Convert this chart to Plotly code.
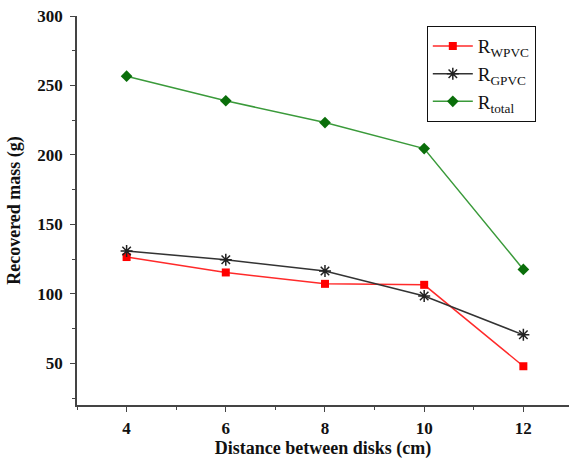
import plotly.graph_objects as go

distance = [4, 6, 8, 10, 12]
r_wpvc = [126.5, 115.4, 107.2, 106.5, 47.9]
r_gpvc = [130.8, 124.6, 116.4, 98.4, 70.5]
r_total = [256.7, 239.0, 223.3, 204.6, 117.6]

names = ["R<sub>WPVC</sub>", "R<sub>GPVC</sub>", "R<sub>total</sub>"]

fig = go.Figure()
fig.add_trace(go.Scatter(x=distance, y=r_wpvc, mode="lines+markers", name=names[0],
                         line=dict(color="#ff2a2a", width=1.5),
                         marker=dict(symbol="square", size=8, color="#ff0000")))
fig.add_trace(go.Scatter(x=distance, y=r_gpvc, mode="lines+markers", name=names[1],
                         line=dict(color="#333333", width=1.5),
                         marker=dict(symbol="asterisk-open", size=10, color="#222222",
                                     line=dict(color="#222222", width=1.5))))
fig.add_trace(go.Scatter(x=distance, y=r_total, mode="lines+markers", name=names[2],
                         line=dict(color="#3a9a3a", width=1.5),
                         marker=dict(symbol="diamond", size=9, color="#0a6e0a")))

tick_font = dict(family="Liberation Serif", size=17, color="#111111", weight="bold")
title_font = dict(family="Liberation Serif", size=18, color="#111111", weight="bold")
fig.update_layout(
    width=569, height=459,
    margin=dict(l=77, r=0, t=16, b=54),
    paper_bgcolor="white", plot_bgcolor="white",
    font=dict(family="Liberation Serif", color="#111111"),
    showlegend=True,
    legend=dict(x=0.711, y=0.974, xanchor="left", yanchor="top",
                bordercolor="#111111", borderwidth=1, bgcolor="white",
                font=dict(family="Liberation Serif", size=19, color="#111111"),
                tracegroupgap=0, itemwidth=40),
    xaxis=dict(range=[3, 12.92], tickvals=[4, 6, 8, 10, 12], ticks="outside",
               ticklen=5, tickwidth=1.2, tickcolor="#444444",
               showline=True, linecolor="#444444", linewidth=1.5,
               showgrid=False, zeroline=False, automargin=False,
               tickfont=tick_font, ticklabelstandoff=2,
               title=dict(text="Distance between disks (cm)", font=title_font, standoff=5),
               minor=dict(tickvals=[3, 5, 7, 9, 11], ticks="outside", ticklen=3,
                          tickcolor="#444444", tickwidth=1.2)),
    yaxis=dict(range=[20, 300], tickvals=[50, 100, 150, 200, 250, 300], ticks="outside",
               ticklen=5, tickwidth=1.2, tickcolor="#444444",
               showline=True, linecolor="#444444", linewidth=1.5,
               showgrid=False, zeroline=False, automargin=False,
               tickfont=tick_font, ticklabelstandoff=4,
               title=dict(text="Recovered mass (g)", font=title_font, standoff=12),
               minor=dict(tickvals=[25, 75, 125, 175, 225, 275], ticks="outside", ticklen=3,
                          tickcolor="#444444", tickwidth=1.2)),
)

fig.write_html("out.html", config={"displayModeBar": False},
               post_script="document.body.style.margin='0';document.body.style.overflow='hidden';")
